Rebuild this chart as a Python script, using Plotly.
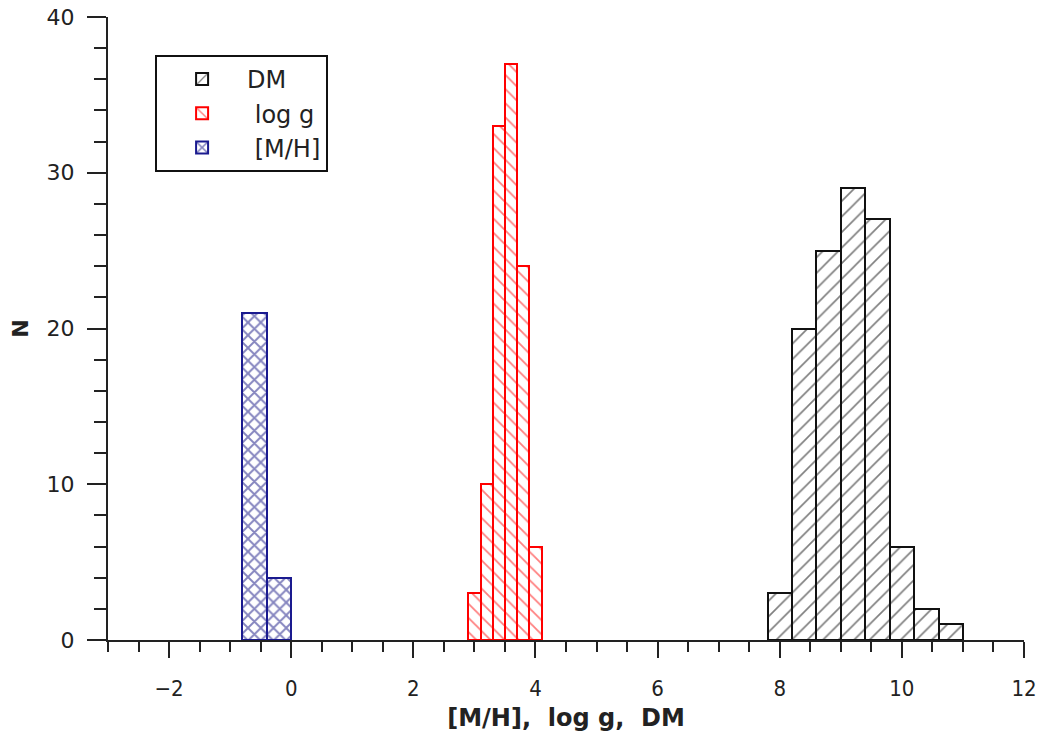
import plotly.graph_objects as go

# ---- data ----
dm_edges = [7.8, 8.2, 8.6, 9.0, 9.4, 9.8, 10.2, 10.6, 11.0]
dm_counts = [3, 20, 25, 29, 27, 6, 2, 1]

logg_edges = [2.9, 3.1, 3.3, 3.5, 3.7, 3.9, 4.1]
logg_counts = [3, 10, 33, 37, 24, 6]

mh_edges = [-0.8, -0.4, 0.0]
mh_counts = [21, 4]

x_ticks = [-2, 0, 2, 4, 6, 8, 10, 12]
x_tick_labels = ["\u22122", "0", "2", "4", "6", "8", "10", "12"]
y_ticks = [0, 10, 20, 30, 40]


def centers(edges):
    return [(a + b) / 2 for a, b in zip(edges[:-1], edges[1:])]


def widths(edges):
    return [b - a for a, b in zip(edges[:-1], edges[1:])]


fig = go.Figure()

fig.add_trace(go.Bar(
    name="DM", x=centers(dm_edges), y=dm_counts, width=widths(dm_edges),
    marker=dict(color="white",
                line=dict(color="#111111", width=2),
                pattern=dict(shape="/", fgcolor="#000000", bgcolor="white",
                             size=11, solidity=0.15)),
))
fig.add_trace(go.Bar(
    name="\u00a0log g", x=centers(logg_edges), y=logg_counts, width=widths(logg_edges),
    marker=dict(color="white",
                line=dict(color="#ff0000", width=2),
                pattern=dict(shape="\\", fgcolor="#ff0000", bgcolor="white",
                             size=10, solidity=0.18)),
))
fig.add_trace(go.Bar(
    name="\u00a0[M/H]", x=centers(mh_edges), y=mh_counts, width=widths(mh_edges),
    marker=dict(color="white",
                line=dict(color="#1a1a8f", width=2),
                pattern=dict(shape="x", fgcolor="#0c0c80", bgcolor="white",
                             size=9, solidity=0.38)),
))

axis_color = "#222222"
fig.update_layout(
    width=1043, height=738,
    margin=dict(l=108, r=19, t=17, b=98, autoexpand=False),
    paper_bgcolor="white", plot_bgcolor="white",
    barmode="overlay", bargap=0,
    showlegend=True,
    legend=dict(x=0.0514, y=0.939, xanchor="left", yanchor="top",
                bgcolor="white", bordercolor="#111111", borderwidth=2,
                font=dict(family="DejaVu Sans", size=24, color="#222222"),
                itemwidth=80,
                traceorder="normal"),
    font=dict(family="DejaVu Sans", color="#222222"),
    xaxis=dict(range=[-3, 12], tickmode="array", tickvals=x_ticks, ticktext=x_tick_labels,
               automargin=False,
               showgrid=False, zeroline=False, showline=True, linecolor=axis_color, linewidth=2,
               ticks="outside", ticklen=16, tickwidth=2, tickcolor=axis_color,
               ticklabelstandoff=12,
               tickfont=dict(family="DejaVu Sans Condensed, DejaVu Sans", size=22, color="#222222"),
               minor=dict(dtick=0.5, tick0=0, ticks="outside", ticklen=10, tickwidth=2, tickcolor=axis_color),
               title=dict(text="<b>[M/H],  log g,  DM</b>", standoff=9,
                          font=dict(family="DejaVu Sans", size=24, color="#222222"))),
    yaxis=dict(range=[0, 40], tickmode="array", tickvals=y_ticks,
               automargin=False,
               showgrid=False, zeroline=False, showline=True, linecolor=axis_color, linewidth=2,
               ticks="outside", ticklen=19, tickwidth=2, tickcolor=axis_color,
               ticklabelstandoff=8,
               tickfont=dict(family="DejaVu Sans", size=22, color="#222222"),
               minor=dict(dtick=2, tick0=0, ticks="outside", ticklen=12, tickwidth=2, tickcolor=axis_color),
               title=dict(text="<b>N</b>", standoff=12,
                          font=dict(family="DejaVu Sans", size=22, color="#222222"))),
)

fig.write_html("out.html")
